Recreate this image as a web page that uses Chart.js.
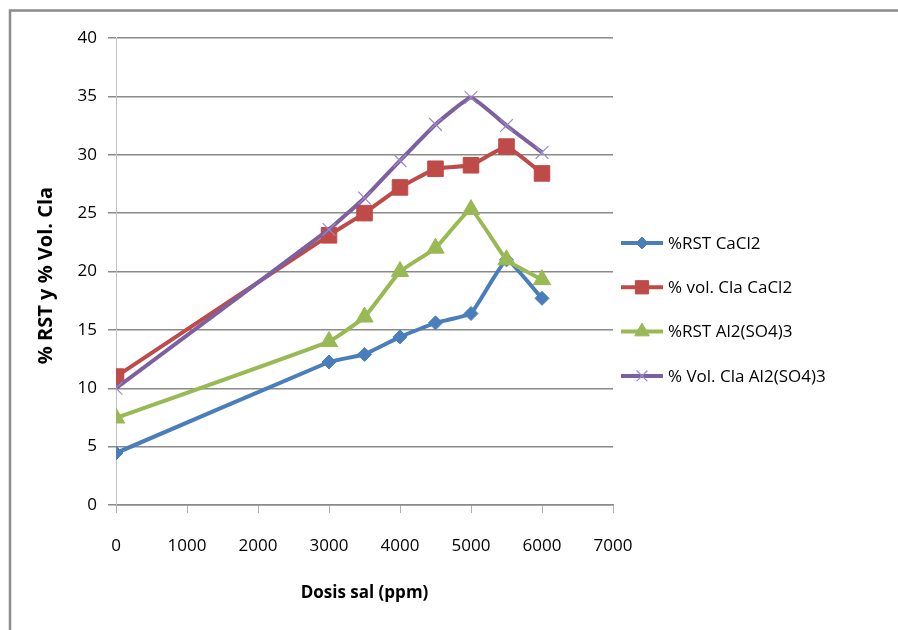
<!DOCTYPE html>
<html>
<head>
<meta charset="utf-8">
<script src="https://cdn.jsdelivr.net/npm/chart.js@4.4.1/dist/chart.umd.min.js"></script>
<style>
  html, body { margin: 0; padding: 0; background: #ffffff; }
  #wrap { width: 898px; height: 630px; position: relative; }
</style>
</head>
<body>
<div id="wrap"><canvas id="chart" width="898" height="630"></canvas></div>
<script>
// Salt dose (ppm) on the x axis
const doses = [0, 3000, 3500, 4000, 4500, 5000, 5500, 6000];

// Series values (%)
const rstCaCl2 = [4.45, 12.25, 12.9, 14.4, 15.6, 16.4, 21.0, 17.7];
const volCaCl2 = [11.0, 23.1, 25.0, 27.2, 28.8, 29.1, 30.7, 28.4];
const rstAl2SO43 = [7.45, 14.0, 16.1, 20.0, 22.0, 25.3, 21.0, 19.3];
const volAl2SO43 = [10.0, 23.6, 26.3, 29.5, 32.6, 34.9, 32.5, 30.2];

const seriesNames = ['%RST CaCl2', '% vol. Cla CaCl2', '%RST Al2(SO4)3', '% Vol. Cla Al2(SO4)3'];

// Axis ranges and titles
const xTicks = [0, 1000, 2000, 3000, 4000, 5000, 6000, 7000];
const yTicks = [0, 5, 10, 15, 20, 25, 30, 35, 40];
const xTitle = 'Dosis sal (ppm)';
const yTitle = '% RST y % Vol. Cla';

const FONT = "'Open Sans', 'Noto Sans', sans-serif";
const GRID = '#8a8a8a';

function pts(ys) { return doses.map((d, i) => ({ x: d, y: ys[i] })); }

const datasets = [
  { label: seriesNames[0], data: pts(rstCaCl2), borderColor: '#4a7ebb', backgroundColor: '#4a7ebb',
    pointStyle: 'rectRot', pointRadius: 7, pointBorderWidth: 1, pointBorderColor: '#4a7ebb', order: 4 },
  { label: seriesNames[1], data: pts(volCaCl2), borderColor: '#be4b48', backgroundColor: '#be4b48',
    pointStyle: 'rect', pointRadius: 11, pointBorderWidth: 1, pointBorderColor: '#be4b48', order: 3 },
  { label: seriesNames[2], data: pts(rstAl2SO43), borderColor: '#98b954', backgroundColor: '#98b954',
    pointStyle: 'triangle', pointRadius: 10, pointBorderWidth: 1, pointBorderColor: '#98b954', order: 2 },
  { label: seriesNames[3], data: pts(volAl2SO43), borderColor: '#7d60a0', backgroundColor: '#9c88c8',
    pointStyle: 'crossRot', pointRadius: 9, pointBorderWidth: 1.2, pointBorderColor: '#9c88c8', order: 1 }
];
datasets.forEach(ds => {
  ds.borderWidth = 4;
  ds.tension = 0.1;
  ds.fill = false;
  ds.pointHoverRadius = ds.pointRadius;
});

// Outer frame, axis titles and the legend on the right
const decorations = {
  id: 'decorations',
  afterDraw(chart) {
    const ctx = chart.ctx;
    const area = chart.chartArea;
    ctx.save();
    // frame
    ctx.strokeStyle = '#8c8c8c';
    ctx.lineWidth = 2.5;
    ctx.beginPath();
    ctx.moveTo(10, 630);
    ctx.lineTo(10, 10.5);
    ctx.lineTo(898, 10.5);
    ctx.stroke();

    // axis titles
    ctx.fillStyle = '#000000';
    ctx.textAlign = 'center';
    ctx.textBaseline = 'middle';
    ctx.font = 'bold 17px ' + FONT;
    ctx.fillText(xTitle, (area.left + area.right) / 2, area.bottom + 88);
    ctx.save();
    ctx.font = 'bold 20px ' + FONT;
    ctx.translate(46, (area.top + area.bottom) / 2 + 4);
    ctx.rotate(-Math.PI / 2);
    ctx.fillText(yTitle, 0, 0);
    ctx.restore();

    // legend
    ctx.font = '17px ' + FONT;
    ctx.textAlign = 'left';
    const x0 = area.right + 8, x1 = area.right + 50;
    const yStart = 243, step = 44.3;
    chart.data.datasets.forEach((ds, i) => {
      const y = yStart + i * step;
      ctx.strokeStyle = ds.borderColor;
      ctx.lineWidth = 4;
      ctx.beginPath();
      ctx.moveTo(x0, y);
      ctx.lineTo(x1, y);
      ctx.stroke();
      ctx.fillStyle = ds.backgroundColor;
      ctx.strokeStyle = ds.pointBorderColor;
      ctx.lineWidth = ds.pointBorderWidth;
      Chart.helpers.drawPoint(ctx, {
        pointStyle: ds.pointStyle, radius: ds.pointRadius * 0.85, rotation: 0, borderWidth: ds.pointBorderWidth
      }, (x0 + x1) / 2, y);
      ctx.fillStyle = '#000000';
      ctx.fillText(ds.label, x1 + 5, y + 1);
    });
    ctx.restore();
  }
};

new Chart(document.getElementById('chart'), {
  type: 'line',
  data: { datasets },
  options: {
    responsive: false,
    devicePixelRatio: 1,
    animation: false,
    events: [],
    layout: { padding: { left: 0, top: 38, right: 285, bottom: 0 } },
    plugins: { legend: { display: false }, tooltip: { enabled: false } },
    scales: {
      x: {
        type: 'linear',
        min: xTicks[0],
        max: xTicks[xTicks.length - 1],
        afterFit(scale) { scale.height = 125; },
        afterBuildTicks(scale) { scale.ticks = xTicks.map(v => ({ value: v })); },
        ticks: { color: '#000000', padding: 23, maxRotation: 0, font: { family: FONT, size: 17 },
          callback: v => String(v) },
        grid: { drawOnChartArea: false, drawTicks: true, tickLength: 8, color: '#b0b0b0', lineWidth: 1 },
        border: { display: true, color: GRID, width: 1.5 }
      },
      y: {
        type: 'linear',
        min: yTicks[0],
        max: yTicks[yTicks.length - 1],
        afterFit(scale) { scale.width = 116; },
        afterBuildTicks(scale) { scale.ticks = yTicks.map(v => ({ value: v })); },
        ticks: { color: '#000000', padding: 11, font: { family: FONT, size: 17 },
          callback: v => String(v) },
        grid: { color: GRID, lineWidth: 1.5, drawTicks: true, tickLength: 8 },
        border: { display: true, color: '#c0c0c0', width: 1 }
      }
    }
  },
  plugins: [decorations]
});
</script>
</body>
</html>
